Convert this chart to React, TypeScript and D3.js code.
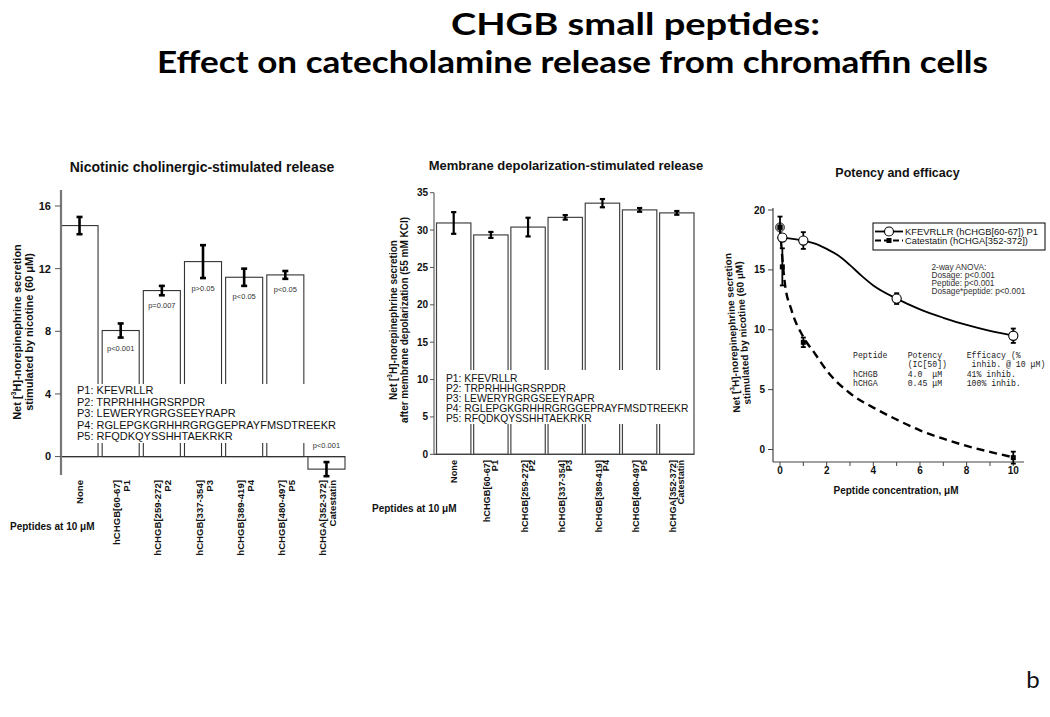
import React from "react";
import * as d3 from "d3";

// ---------- DATA ----------
const labelLine1 = ["None", "hCHGB[60-67]", "hCHGB[259-272]", "hCHGB[337-354]", "hCHGB[389-419]", "hCHGB[480-497]", "hCHGA[352-372]"];
const labelLine2 = ["", "P1", "P2", "P3", "P4", "P5", "Catestatin"];

const nicotineMeans = [14.75, 8.05, 10.6, 12.45, 11.45, 11.6, -0.8];
const nicotineErr = [0.55, 0.45, 0.3, 1.05, 0.55, 0.25, 0.45];
const nicotineP = ["", "p<0.001", "p=0.007", "p>0.05", "p<0.05", "p<0.05", "p<0.001"];
const nicotineTicks = [0, 4, 8, 12, 16];

const kclMeans = [30.95, 29.35, 30.4, 31.7, 33.6, 32.7, 32.3];
const kclErr = [1.45, 0.4, 1.25, 0.3, 0.55, 0.25, 0.25];
const kclTicks = [0, 5, 10, 15, 20, 25, 30, 35];

const peptideSeqs = [
  "P1: KFEVRLLR",
  "P2: TRPRHHHGRSRPDR",
  "P3: LEWERYRGRGSEEYRAPR",
  "P4: RGLEPGKGRHHRGRGGEPRAYFMSDTREEKR",
  "P5: RFQDKQYSSHHTAEKRKR",
];

// Potency panel
const p1Dose = [0.1, 1, 5, 10];
const p1Mean = [17.7, 17.45, 12.6, 9.5];
const p1Err = [0.3, 0.7, 0.45, 0.6];
const catDose = [0, 0.1, 1, 10];
const catMean = [18.55, 15.25, 8.95, -0.68];
const catErr = [0.9, 1.55, 0.4, 0.5];
const controlDose = [0];
const controlMean = [18.55];
// fitted curves
const p1CurveX = [0.1, 1, 1.5, 2, 2.5, 3, 3.5, 4, 5, 6, 7, 8, 9, 10];
const p1CurveY = [17.7, 17.45, 17.2, 16.75, 16.2, 15.4, 14.5, 13.7, 12.6, 11.7, 11.0, 10.4, 9.9, 9.5];
const catCurveX = [0, 0.2, 0.5, 1, 1.5, 2, 3, 4, 5, 6, 7, 8, 9, 10];
const catCurveY = [18.5, 14.0, 11.6, 9.4, 8.0, 6.6, 4.7, 3.5, 2.5, 1.6, 0.9, 0.3, -0.2, -0.65];
const potencyYTicks = [0, 5, 10, 15, 20];
const potencyXTicks = [0, 1, 2, 3, 4, 5, 6, 7, 8, 9, 10];

const legendLabels = ["KFEVRLLR (hCHGB[60-67]) P1", "Catestatin (hCHGA[352-372])"];
const anovaLines = ["2-way ANOVA:", "Dosage: p<0.001", "Peptide: p<0.001", "Dosage*peptide: p<0.001"];
const tableRows = [
  ["Peptide", "Potency", "Efficacy (%"],
  ["", "(IC[50])", " inhib. @ 10 \u03bcM)"],
  ["hCHGB", "4.0  \u03bcM", "41% inhib."],
  ["hCHGA", "0.45 \u03bcM", "100% inhib."],
];

const ARIAL = "'Liberation Sans', Arial, Helvetica, sans-serif";
const MONO = "'Liberation Mono', 'Courier New', monospace";

function ErrBar({ x, y1, y2, cap, sw }: { x: number; y1: number; y2: number; cap: number; sw: number }) {
  return (
    <g stroke="#000" strokeWidth={sw}>
      <line x1={x} x2={x} y1={y1} y2={y2} />
      <line x1={x - cap} x2={x + cap} y1={y1} y2={y1} />
      <line x1={x - cap} x2={x + cap} y1={y2} y2={y2} />
    </g>
  );
}

function RotLabels({ xs, yEnd, size, off1, off2 }: { xs: number[]; yEnd: number; size: number; off1: number; off2: number }) {
  return (
    <g fontFamily={ARIAL} fontWeight="bold" fontSize={size} fill="#111">
      {labelLine1.map((l, i) => (
        <g key={i} transform={`translate(${xs[i]},${yEnd}) rotate(-90)`}>
          {labelLine2[i] === "" ? (
            <text x={0} y={0} textAnchor="end" dominantBaseline="central">{l}</text>
          ) : (
            <>
              <text x={0} y={off1} textAnchor="end" dominantBaseline="central">{l}</text>
              <text x={0} y={off2} textAnchor="end" dominantBaseline="central">{labelLine2[i]}</text>
            </>
          )}
        </g>
      ))}
    </g>
  );
}

function NicotinePanel() {
  const y = d3.scaleLinear().domain([0, 16]).range([456.6, 206]);
  const x = d3.scaleBand<number>().domain(d3.range(7)).range([61, 345]).paddingInner(0.1).paddingOuter(0);
  const bw = x.bandwidth();
  const centers = d3.range(7).map((i) => (x(i) as number) + bw / 2);
  return (
    <g>
      <text x={202} y={172} textAnchor="middle" fontFamily={ARIAL} fontWeight="bold" fontSize={14} fill="#111">
        Nicotinic cholinergic-stimulated release
      </text>
      {nicotineMeans.map((m, i) => {
        const top = Math.min(y(m), y(0));
        const h = Math.abs(y(m) - y(0));
        return <rect key={i} x={x(i)} y={top} width={bw} height={h} fill="#fff" stroke="#333" strokeWidth={1.1} />;
      })}
      {/* peptide text box */}
      <rect x={66} y={384} width={280} height={59} fill="#fff" />
      <g fontFamily={ARIAL} fontSize={11} fill="#111">
        {peptideSeqs.map((s, i) => (
          <text key={i} x={77} y={394 + i * 11.6}>{s}</text>
        ))}
      </g>
      {/* baseline */}
      <line x1={61} x2={345} y1={y(0)} y2={y(0)} stroke="#333" strokeWidth={1.1} />
      {nicotineMeans.map((m, i) => (
        <ErrBar key={i} x={centers[i]} y1={y(m + nicotineErr[i])} y2={y(m - nicotineErr[i])} cap={3} sw={2.6} />
      ))}
      <g fontFamily={ARIAL} fontSize={7.5} fill="#333" textAnchor="middle">
        {nicotineP.map((p, i) =>
          p === "" ? null : (
            <text key={i} x={centers[i]} y={nicotineMeans[i] < 0 ? y(0) - 9 : y(nicotineMeans[i] - nicotineErr[i]) + 13}>{p}</text>
          )
        )}
      </g>
      {/* y axis */}
      <line x1={61} x2={61} y1={190} y2={475} stroke="#777" strokeWidth={2.2} />
      {nicotineTicks.map((t) => (
        <g key={t}>
          <line x1={55} x2={61} y1={y(t)} y2={y(t)} stroke="#555" strokeWidth={1} />
          <text x={51} y={y(t)} dy="0.35em" textAnchor="end" fontFamily={ARIAL} fontWeight="bold" fontSize={11} fill="#111">{t}</text>
        </g>
      ))}
      <g fontFamily={ARIAL} fontWeight="bold" fontSize={11} fill="#111" textAnchor="middle">
        <text transform="translate(17,332) rotate(-90)" dominantBaseline="central">
          Net [<tspan fontSize={7} dy="-4">3</tspan><tspan dy="4">H]-norepinephrine secretion</tspan>
        </text>
        <text transform="translate(29,332) rotate(-90)" dominantBaseline="central">stimulated by nicotine (60 {"\u03bc"}M)</text>
      </g>
      <RotLabels xs={centers} yEnd={480} size={9.6} off1={-4} off2={6} />
      <text x={10} y={530} fontFamily={ARIAL} fontWeight="bold" fontSize={10} fill="#111">Peptides at 10 {"\u03bc"}M</text>
    </g>
  );
}

function KclPanel() {
  const y = d3.scaleLinear().domain([0, 35]).range([454.3, 192.7]);
  const x = d3.scaleBand<number>().domain(d3.range(7)).range([436.5, 694]).paddingInner(0.075).paddingOuter(0);
  const bw = x.bandwidth();
  const centers = d3.range(7).map((i) => (x(i) as number) + bw / 2);
  return (
    <g>
      <text x={566} y={170} textAnchor="middle" fontFamily={ARIAL} fontWeight="bold" fontSize={13} fill="#111">
        Membrane depolarization-stimulated release
      </text>
      {kclMeans.map((m, i) => (
        <rect key={i} x={x(i)} y={y(m)} width={bw} height={y(0) - y(m)} fill="#fff" stroke="#444" strokeWidth={1.2} />
      ))}
      <rect x={440} y={370} width={252} height={54} fill="#fff" />
      <g fontFamily={ARIAL} fontSize={10.3} fill="#111">
        {peptideSeqs.map((s, i) => (
          <text key={i} x={446} y={381.5 + i * 10.1}>{s}</text>
        ))}
      </g>
      <line x1={434} x2={694} y1={y(0)} y2={y(0)} stroke="#444" strokeWidth={1.2} />
      {kclMeans.map((m, i) => (
        <ErrBar key={i} x={centers[i]} y1={y(m + kclErr[i])} y2={y(m - kclErr[i])} cap={2.6} sw={2.2} />
      ))}
      <line x1={434} x2={434} y1={192.7} y2={454.3} stroke="#555" strokeWidth={1.1} />
      {kclTicks.map((t) => (
        <g key={t}>
          <line x1={430} x2={434} y1={y(t)} y2={y(t)} stroke="#555" strokeWidth={1} />
          <text x={428} y={y(t)} dy="0.35em" textAnchor="end" fontFamily={ARIAL} fontWeight="bold" fontSize={10} fill="#111">{t}</text>
        </g>
      ))}
      <g fontFamily={ARIAL} fontWeight="bold" fontSize={10} fill="#111" textAnchor="middle">
        <text transform="translate(393,320) rotate(-90)" dominantBaseline="central">
          Net [<tspan fontSize={6.5} dy="-4">3</tspan><tspan dy="4">H]-norepinephrine secretion</tspan>
        </text>
        <text transform="translate(404,320) rotate(-90)" dominantBaseline="central">after membrane depolarization (55 mM KCl)</text>
      </g>
      <RotLabels xs={centers} yEnd={460} size={9.2} off1={-3.5} off2={4} />
      <text x={372} y={512} fontFamily={ARIAL} fontWeight="bold" fontSize={10} fill="#111">Peptides at 10 {"\u03bc"}M</text>
    </g>
  );
}

function PotencyPanel() {
  const x = d3.scaleLinear().domain([0, 10]).range([780, 1013.3]);
  const y = d3.scaleLinear().domain([0, 20]).range([449.5, 210]);
  const lineGen = d3.line<[number, number]>().x((d) => x(d[0])).y((d) => y(d[1])).curve(d3.curveMonotoneX);
  const p1Path = lineGen(p1CurveX.map((v, i) => [v, p1CurveY[i]] as [number, number])) as string;
  const catPath = lineGen(catCurveX.map((v, i) => [v, catCurveY[i]] as [number, number])) as string;
  return (
    <g>
      <text x={897.5} y={177} textAnchor="middle" fontFamily={ARIAL} fontWeight="bold" fontSize={12.5} fill="#111">
        Potency and efficacy
      </text>
      {/* axes */}
      <line x1={773} x2={773} y1={208} y2={462} stroke="#444" strokeWidth={1.2} />
      <line x1={773} x2={1024} y1={462} y2={462} stroke="#444" strokeWidth={1.2} />
      {potencyYTicks.map((t) => (
        <g key={t}>
          <line x1={768} x2={773} y1={y(t)} y2={y(t)} stroke="#444" strokeWidth={1} />
          <text x={765} y={y(t)} dy="0.35em" textAnchor="end" fontFamily={ARIAL} fontWeight="bold" fontSize={10} fill="#111">{t}</text>
        </g>
      ))}
      {potencyXTicks.map((t) => (
        <g key={t}>
          <line x1={x(t)} x2={x(t)} y1={462} y2={466} stroke="#444" strokeWidth={1} />
          {t % 2 === 0 ? (
            <text x={x(t)} y={474} textAnchor="middle" fontFamily={ARIAL} fontWeight="bold" fontSize={10} fill="#111">{t}</text>
          ) : null}
        </g>
      ))}
      <text x={896} y={494} textAnchor="middle" fontFamily={ARIAL} fontWeight="bold" fontSize={10} fill="#111">
        Peptide concentration, {"\u03bc"}M
      </text>
      <g fontFamily={ARIAL} fontWeight="bold" fontSize={10} fill="#111" textAnchor="middle">
        <text transform="translate(732,333) rotate(-93.5)" dominantBaseline="central">
          Net [<tspan fontSize={6.5} dy="-4">3</tspan><tspan dy="4">H]-norepinephrine secretion</tspan>
        </text>
        <text transform="translate(743,333) rotate(-93.5)" dominantBaseline="central">stimulated by nicotine (60 {"\u03bc"}M)</text>
      </g>
      {/* curves */}
      <path d={catPath} fill="none" stroke="#000" strokeWidth={2.4} strokeDasharray="8,5" />
      <path d={p1Path} fill="none" stroke="#000" strokeWidth={1.8} />
      {/* control */}
      {controlDose.map((d, i) => (
        <circle key={i} cx={x(d)} cy={y(controlMean[i])} r={4.5} fill="#999" stroke="#444" strokeWidth={1} />
      ))}
      {catDose.map((d, i) => (
        <g key={i}>
          <ErrBar x={x(d)} y1={y(catMean[i] + catErr[i])} y2={y(catMean[i] - catErr[i])} cap={2.5} sw={1.8} />
          <rect x={x(d) - 2.5} y={y(catMean[i]) - 2.5} width={5} height={5} fill="#000" />
        </g>
      ))}
      {p1Dose.map((d, i) => (
        <g key={i}>
          <ErrBar x={x(d)} y1={y(p1Mean[i] + p1Err[i])} y2={y(p1Mean[i] - p1Err[i])} cap={2.5} sw={1.8} />
          <circle cx={x(d)} cy={y(p1Mean[i])} r={4.6} fill="#fff" stroke="#000" strokeWidth={1.1} />
        </g>
      ))}
      {/* legend */}
      <rect x={873} y={223} width={172} height={27} fill="#fff" stroke="#000" strokeWidth={1} />
      <line x1={875} x2={903} y1={231.5} y2={231.5} stroke="#000" strokeWidth={1.8} />
      <circle cx={889} cy={231.5} r={4.5} fill="#fff" stroke="#000" strokeWidth={1.1} />
      <line x1={875} x2={903} y1={240.5} y2={240.5} stroke="#000" strokeWidth={2} strokeDasharray="6,3" />
      <rect x={886.5} y={238} width={5} height={5} fill="#000" />
      <g fontFamily={ARIAL} fontSize={9.4} fill="#111">
        <text x={905} y={235}>{legendLabels[0]}</text>
        <text x={905} y={244}>{legendLabels[1]}</text>
      </g>
      <g fontFamily={ARIAL} fontSize={8.3} fill="#333">
        {anovaLines.map((l, i) => (
          <text key={i} x={931.5} y={269.5 + i * 8}>{l}</text>
        ))}
      </g>
      <g fontFamily={MONO} fontSize={8.2} fill="#222" style={{ whiteSpace: "pre" }}>
        {tableRows.map((row, i) => (
          <g key={i}>
            <text x={853} y={358 + i * 9.4} xmlSpace="preserve">{row[0]}</text>
            <text x={907.7} y={358 + i * 9.4} xmlSpace="preserve">{row[1]}</text>
            <text x={966.7} y={358 + i * 9.4} xmlSpace="preserve">{row[2]}</text>
          </g>
        ))}
      </g>
    </g>
  );
}

export default function App() {
  return (
    <svg width={1050} height={717} style={{ position: "absolute", left: 0, top: 0, background: "#fff" }}>
      <rect x={0} y={0} width={1050} height={717} fill="#fff" />
      <g fontFamily="Lato, 'Open Sans', sans-serif" fontWeight="bold" fill="#000">
        <text x={451} y={35} fontSize={31} textLength={369} lengthAdjust="spacingAndGlyphs">CHGB small peptides:</text>
        <text x={157} y={73} fontSize={31} textLength={831} lengthAdjust="spacingAndGlyphs">Effect on catecholamine release from chromaffin cells</text>
      </g>
      <NicotinePanel />
      <KclPanel />
      <PotencyPanel />
      <text x={1033} y={688} textAnchor="middle" fontFamily="Lato, sans-serif" fontSize={24} fill="#111">b</text>
    </svg>
  );
}
